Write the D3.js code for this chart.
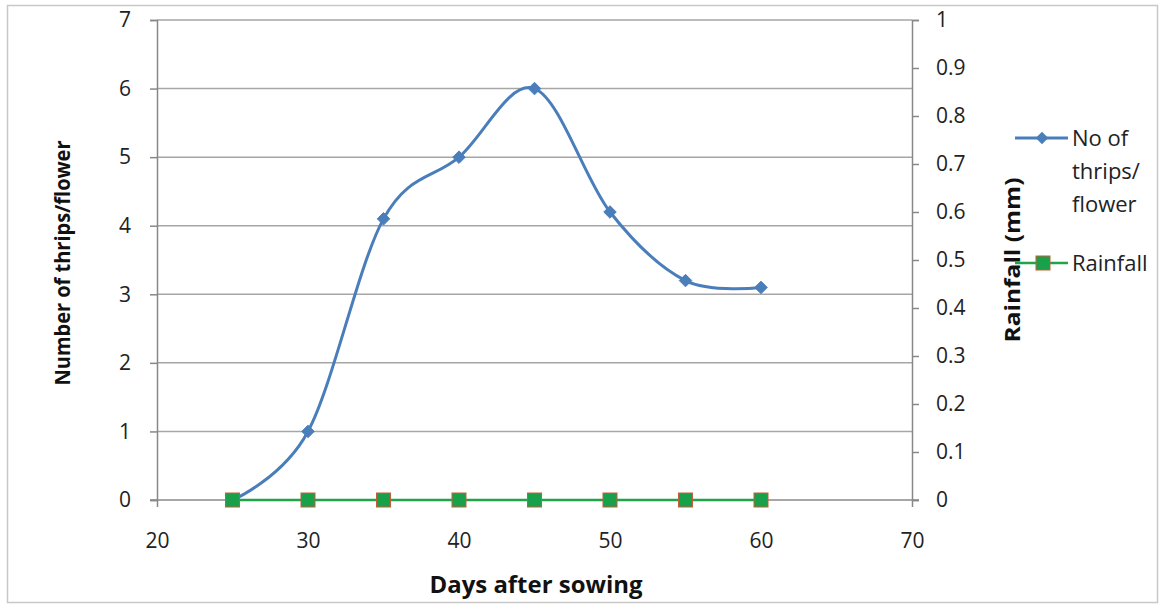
<!DOCTYPE html>
<html><head><meta charset="utf-8">
<script src="https://cdn.jsdelivr.net/npm/d3@7"></script>
<style>body{margin:0;background:#fff;}svg{display:block;font-family:"Open Sans",sans-serif;}</style>
</head><body><svg id="c" width="1160" height="605"></svg>
<script>
const days = [25,30,35,40,45,50,55,60];
const thrips = [0,1,4.1,5,6,4.2,3.2,3.1];
const rainfall = [0,0,0,0,0,0,0,0];
const xTicks = [20,30,40,50,60,70];
const yLeftTicks = [0,1,2,3,4,5,6,7];
const yRightTicks = [0,0.1,0.2,0.3,0.4,0.5,0.6,0.7,0.8,0.9,1];
const legendLines = ["No of","thrips/","flower"];
const seriesNames = ["No of thrips/ flower","Rainfall"];

const FONT = "'Open Sans', sans-serif";
const svg = d3.select("#c");
const L=157,R=912,T=20,B=500;
const x = d3.scaleLinear().domain([20,70]).range([L,R]);
const yL = d3.scaleLinear().domain([0,7]).range([B,T]);
const yR = d3.scaleLinear().domain([0,1]).range([B,T]);
const gridC="#a6a6a6", axC="#888";

svg.append("rect").attr("x",7.5).attr("y",5.5).attr("width",1150).attr("height",597).attr("fill","#fff").attr("stroke","#c8c8c8").attr("stroke-width",1.5);

svg.append("g").selectAll("line").data(yLeftTicks.filter(d=>d>0)).join("line")
  .attr("x1",L).attr("x2",R).attr("y1",d=>yL(d)).attr("y2",d=>yL(d))
  .attr("stroke",gridC).attr("stroke-width",1.5);

const gl = svg.append("g").attr("transform",`translate(${L},0)`)
  .call(d3.axisLeft(yL).tickValues(yLeftTicks).tickSize(7).tickPadding(19).tickFormat(d3.format("d")));
const gr = svg.append("g").attr("transform",`translate(${R},0)`)
  .call(d3.axisRight(yR).tickValues(yRightTicks).tickSize(7).tickPadding(17).tickFormat(d=>d===0?"0":d===1?"1":d3.format(".1f")(d)));
const gb = svg.append("g").attr("transform",`translate(0,${B})`)
  .call(d3.axisBottom(x).tickValues(xTicks).tickSize(7).tickPadding(26).tickFormat(d3.format("d")));
[gl,gr,gb].forEach(g=>{
  g.select(".domain").attr("stroke",axC).attr("stroke-width",1.5);
  g.selectAll(".tick line").attr("stroke",axC).attr("stroke-width",1.5);
  g.selectAll("text").attr("font-size",21).attr("fill","#222").attr("font-family",FONT);
});
gb.select(".domain").remove();
svg.append("line").attr("x1",L-7).attr("x2",R+7).attr("y1",B).attr("y2",B).attr("stroke",axC).attr("stroke-width",1.5);

svg.append("text").attr("x",536).attr("y",593).attr("text-anchor","middle").attr("font-size",24).attr("font-weight","bold").attr("fill","#111")
  .attr("font-family",FONT).attr("textLength",213).attr("lengthAdjust","spacingAndGlyphs").text("Days after sowing");
svg.append("text").attr("transform","translate(70,263) rotate(-90)").attr("text-anchor","middle").attr("font-size",22).attr("font-weight","bold").attr("fill","#111")
  .attr("font-family",FONT).attr("textLength",245).attr("lengthAdjust","spacingAndGlyphs").text("Number of thrips/flower");
svg.append("text").attr("transform","translate(1020,260) rotate(-90)").attr("text-anchor","middle").attr("font-size",21).attr("font-weight","bold").attr("fill","#111")
  .attr("font-family",FONT).attr("textLength",165).attr("lengthAdjust","spacingAndGlyphs").text("Rainfall (mm)");

const blue="#4a7ebb", green="#1fa44a", sqFill="#18a04a", sqStroke="#c0603a";
const lineR = d3.line().x((d,i)=>x(days[i])).y(d=>yR(d));
svg.append("path").attr("d",lineR(rainfall)).attr("fill","none").attr("stroke",green).attr("stroke-width",2.5);
const lineT = d3.line().x((d,i)=>x(days[i])).y(d=>yL(d)).curve(d3.curveCardinal.tension(0));
svg.append("path").attr("d",lineT(thrips)).attr("fill","none").attr("stroke",blue).attr("stroke-width",3);
const dia = d3.symbol().type(d3.symbolDiamond2).size(100);
svg.append("g").selectAll("path").data(thrips).join("path")
  .attr("d",dia).attr("transform",(d,i)=>`translate(${x(days[i])},${yL(d)})`)
  .attr("fill",blue).attr("stroke",blue);
svg.append("g").selectAll("rect").data(rainfall).join("rect")
  .attr("x",(d,i)=>x(days[i])-7).attr("y",d=>yR(d)-7).attr("width",14).attr("height",14)
  .attr("fill",sqFill).attr("stroke",sqStroke).attr("stroke-width",1);

const lg = svg.append("g");
lg.append("line").attr("x1",1015).attr("x2",1068).attr("y1",138).attr("y2",138).attr("stroke",blue).attr("stroke-width",3);
lg.append("path").attr("d",dia).attr("transform","translate(1042,138)").attr("fill",blue);
const t1 = lg.append("text").attr("x",1072).attr("y",146).attr("font-size",22).attr("fill","#222").attr("font-family",FONT);
legendLines.forEach((s,i)=>t1.append("tspan").attr("x",1072).attr("dy",i?33:0).text(s));
lg.append("line").attr("x1",1015).attr("x2",1068).attr("y1",263).attr("y2",263).attr("stroke",green).attr("stroke-width",2.5);
lg.append("rect").attr("x",1036).attr("y",256).attr("width",14).attr("height",14).attr("fill",sqFill).attr("stroke",sqStroke);
lg.append("text").attr("x",1072).attr("y",271).attr("font-size",22).attr("fill","#222").attr("font-family",FONT).text(seriesNames[1]);
</script></body></html>
